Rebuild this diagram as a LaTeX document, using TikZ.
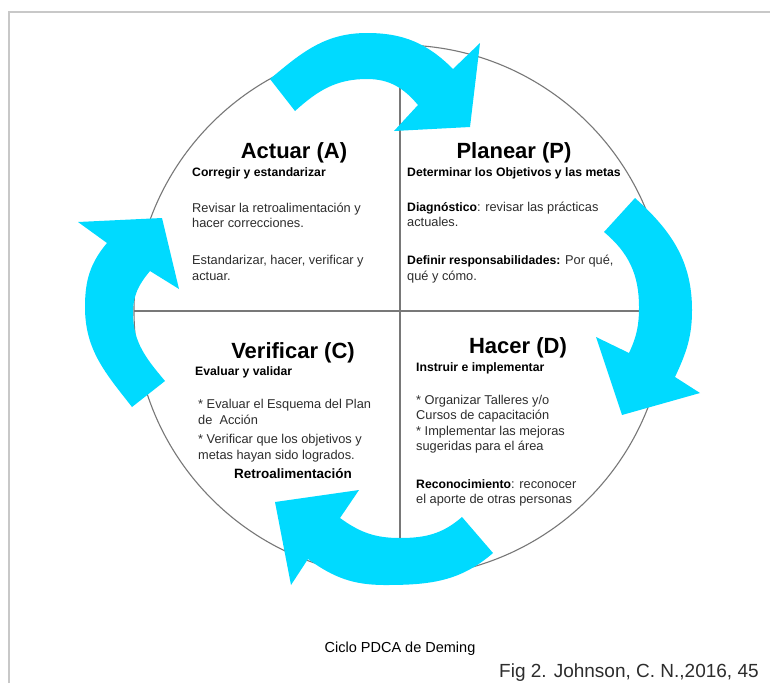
\documentclass[tikz,border=0pt]{standalone}
\usepackage{fontspec}
\setmainfont{Liberation Sans}
\definecolor{arrowcyan}{RGB}{0,218,255}
\definecolor{linegray}{RGB}{120,120,120}
\definecolor{framegray}{RGB}{200,200,200}
\definecolor{bodytext}{RGB}{45,45,45}
\newcommand{\bt}[1]{{\fontsize{12.2}{15}\selectfont\bfseries\color{black}#1}}
\begin{document}
\begin{tikzpicture}[x=1pt,y=-1pt,
  titletext/.style={font=\fontsize{22}{26}\selectfont\bfseries, inner sep=0pt, anchor=base},
  subtext/.style={font=\fontsize{12.2}{15}\selectfont\bfseries, inner sep=0pt, anchor=base west},
  bodyline/.style={font=\fontsize{12.8}{15}\selectfont, text=bodytext, inner sep=0pt, anchor=base west},
  cyclearrow/.style={fill=arrowcyan, draw=none},
  guide/.style={draw=linegray, line width=1.1pt}]
\useasboundingbox (0,0) rectangle (770,683);
\fill[white] (0,0) rectangle (770,683);
% frame
\draw[framegray, line width=1.5pt] (9,683) -- (9,12) -- (770,12);
% circle and cross
\coordinate (ctr) at (400,311);
\draw[guide] (ctr) circle[radius=266pt];
\coordinate (vt) at (400,45);
\coordinate (vb) at (400,577);
\coordinate (hl) at (134,311);
\coordinate (hr) at (666,311);
\draw[guide] (vt) -- (vb);
\draw[guide] (hl) -- (hr);
% top arrow
\fill[cyclearrow] (270,79) to[out=40,in=180] (367,33) to[out=0,in=135] (453,69)
  -- (480,43) -- (470,127) -- (394,131) -- (418,105)
  to[out=130,in=0] (367,79) to[out=180,in=42] (295,111) -- cycle;
% right arrow
\fill[cyclearrow] (635,198) to[out=-42,in=90] (692,310) to[out=-90,in=65] (675,377)
  -- (700,393) -- (622,415) -- (596,337) -- (629,353)
  to[out=65,in=-90] (639,307) to[out=90,in=-40] (604,232) -- cycle;
% bottom arrow
\fill[cyclearrow] (493,553) to[out=221,in=0] (385,585) to[out=180,in=-36] (308,559)
  -- (291,585) -- (275,502) -- (359,490) -- (340,518)
  to[out=-36,in=180] (400,538) to[out=0,in=221] (462,517) -- cycle;
% left arrow
\fill[cyclearrow] (132,407) to[out=128,in=-90] (85,307) to[out=90,in=230] (107,243)
  -- (78,222) -- (162,218) -- (179,289) -- (150,271)
  to[out=230,in=90] (133,313) to[out=-90,in=130] (165,381) -- cycle;
% Actuar
\node[titletext] (tA) at (294,158) {Actuar (A)};
\node[subtext] (sA) at (192,176) {Corregir y estandarizar};
\node[bodyline] (a1) at (192,212) {Revisar la retroalimentación y};
\node[bodyline] (a2) at (192,227) {hacer correcciones.};
\node[bodyline] (a3) at (192,264) {Estandarizar, hacer, verificar y};
\node[bodyline] (a4) at (192,280) {actuar.};
% Planear
\node[titletext] (tP) at (514,158) {Planear (P)};
\node[subtext] (sP) at (407,176) {Determinar los Objetivos y las metas};
\node[bodyline] (p1) at (407,211) {\bt{Diagnóstico}: revisar las prácticas};
\node[bodyline] (p2) at (407,226) {actuales.};
\node[bodyline] (p3) at (407,264) {\bt{Definir responsabilidades:} Por qué,};
\node[bodyline] (p4) at (407,280) {qué y cómo.};
% Verificar
\node[titletext] (tC) at (293,358) {Verificar (C)};
\node[subtext] (sC) at (195,375) {Evaluar y validar};
\node[bodyline] (c1) at (198,408) {* Evaluar el Esquema del Plan};
\node[bodyline] (c2) at (198,424) {de\ \ Acción};
\node[bodyline] (c3) at (198,443) {* Verificar que los objetivos y};
\node[bodyline] (c4) at (198,459) {metas hayan sido logrados.};
\node[subtext, font=\fontsize{13.5}{16}\selectfont\bfseries, anchor=base] (c5) at (293,478) {Retroalimentación};
% Hacer
\node[titletext] (tD) at (518,353) {Hacer (D)};
\node[subtext] (sD) at (416,371) {Instruir e implementar};
\node[bodyline] (d1) at (416,404) {* Organizar Talleres y/o};
\node[bodyline] (d2) at (416,419) {Cursos de capacitación};
\node[bodyline] (d3) at (416,435) {* Implementar las mejoras};
\node[bodyline] (d4) at (416,450) {sugeridas para el área};
\node[bodyline] (d5) at (416,488) {\bt{Reconocimiento}: reconocer};
\node[bodyline] (d6) at (416,503) {el aporte de otras personas};
% captions
\node[inner sep=0pt, anchor=base, font=\fontsize{14.5}{17}\selectfont] (cap) at (400,652) {Ciclo PDCA de Deming};
\node[inner sep=0pt, anchor=base west, font=\fontsize{19}{22}\selectfont, text=bodytext] (fig) at (499,677) {Fig 2. Johnson, C. N.,2016, 45};
\end{tikzpicture}
\end{document}
